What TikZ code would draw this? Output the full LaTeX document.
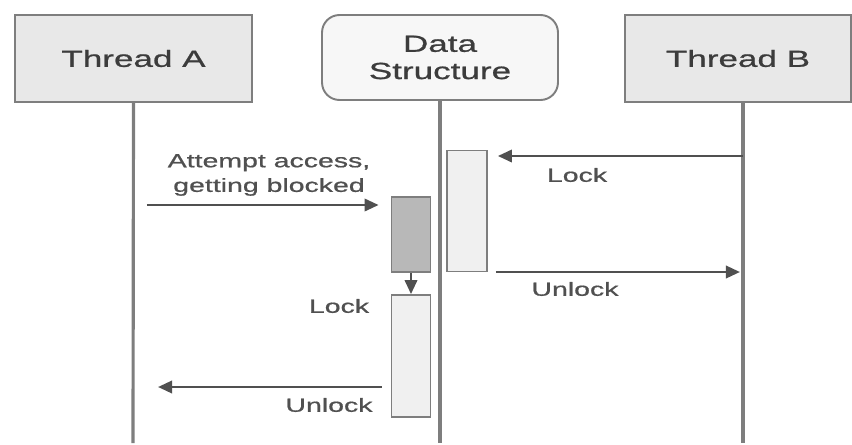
\documentclass[tikz,border=0pt]{standalone}
\usepackage{fontspec}
\setmainfont{Liberation Sans}[FakeStretch=1.5, FakeBold=0.8]
\usetikzlibrary{arrows.meta}
\definecolor{headfill}{HTML}{E8E8E8}
\definecolor{linegray}{HTML}{7E7E7E}
\definecolor{arrowgray}{HTML}{505050}
\definecolor{textgray}{HTML}{3C3C3C}
\definecolor{blockfill}{HTML}{B8B8B8}
\tikzset{
    head/.style = {draw=linegray, fill=headfill, line width=1.1pt, text=textgray,
        minimum width=4.74cm, minimum height=1.74cm, font=\fontsize{13.3}{15.5}\selectfont},
    life/.style = {draw=linegray, line width=1.8pt},
    act/.style = {draw=linegray, fill=white!94!black, line width=1pt, minimum width=0.78cm},
    msg/.style = {draw=arrowgray, line width=1.5pt, -{Triangle[length=8pt,width=7pt]}},
    lbl/.style = {text=arrowgray, font=\fontsize{10.8}{14}\selectfont, align=center}
}

\begin{document}
\begin{tikzpicture}[x=0.02cm, y=-0.02cm]
    \useasboundingbox (0,0) rectangle (852,444);

    \node[head] (thA) at (133.5,58.5) {Thread A};
    \node[head, fill=white!97!black, rounded corners=0.35cm, minimum width=4.72cm,
        minimum height=1.7cm, align=center] (ds) at (440,57.5) {Data\\Structure};
    \node[head, minimum width=4.52cm] (thB) at (738,58.5) {Thread B};

    \coordinate (endA) at (133,443);
    \coordinate (endDS) at (440,443);
    \coordinate (endB) at (743,443);
    \draw[life] (thA.south) -- (endA);
    \draw[life] (ds.south) -- (endDS);
    \draw[life] (thB.south -| endB) -- (endB);

    % activations on the data structure
    \node[act, minimum width=0.8cm, minimum height=2.42cm] (actB) at (467,211) {};
    \node[act, fill=blockfill, minimum height=1.5cm] (blk) at (411,234.5) {};
    \node[act, minimum height=2.44cm] (actA) at (411,356) {};

    \coordinate (attA) at (133,205);
    \coordinate (lockB) at (743,156);
    \coordinate (unlB) at (743,272);
    \coordinate (unlA) at (133,387);

    \draw[msg, shorten <=0.28cm, shorten >=0.24cm] (attA) -- (attA -| blk.west);
    \draw[msg, shorten >=0.2cm] (lockB) -- (lockB -| actB.east);
    \draw[msg, shorten <=0.16cm, shorten >=0.06cm] (unlB -| actB.east) -- (unlB);
    \draw[msg] (blk.south) -- (actA.north);
    \draw[msg, shorten <=0.18cm, shorten >=0.5cm] (unlA -| actA.west) -- (unlA);

    \node[lbl] (lAtt) at (269,175) {Attempt access,\\getting blocked};
    \node[lbl] (lLockB) at (577,175) {Lock};
    \node[lbl] (lUnlB) at (575,289) {Unlock};
    \node[lbl] (lLockA) at (339,306) {Lock};
    \node[lbl] (lUnlA) at (329,405) {Unlock};
\end{tikzpicture}
\end{document}
